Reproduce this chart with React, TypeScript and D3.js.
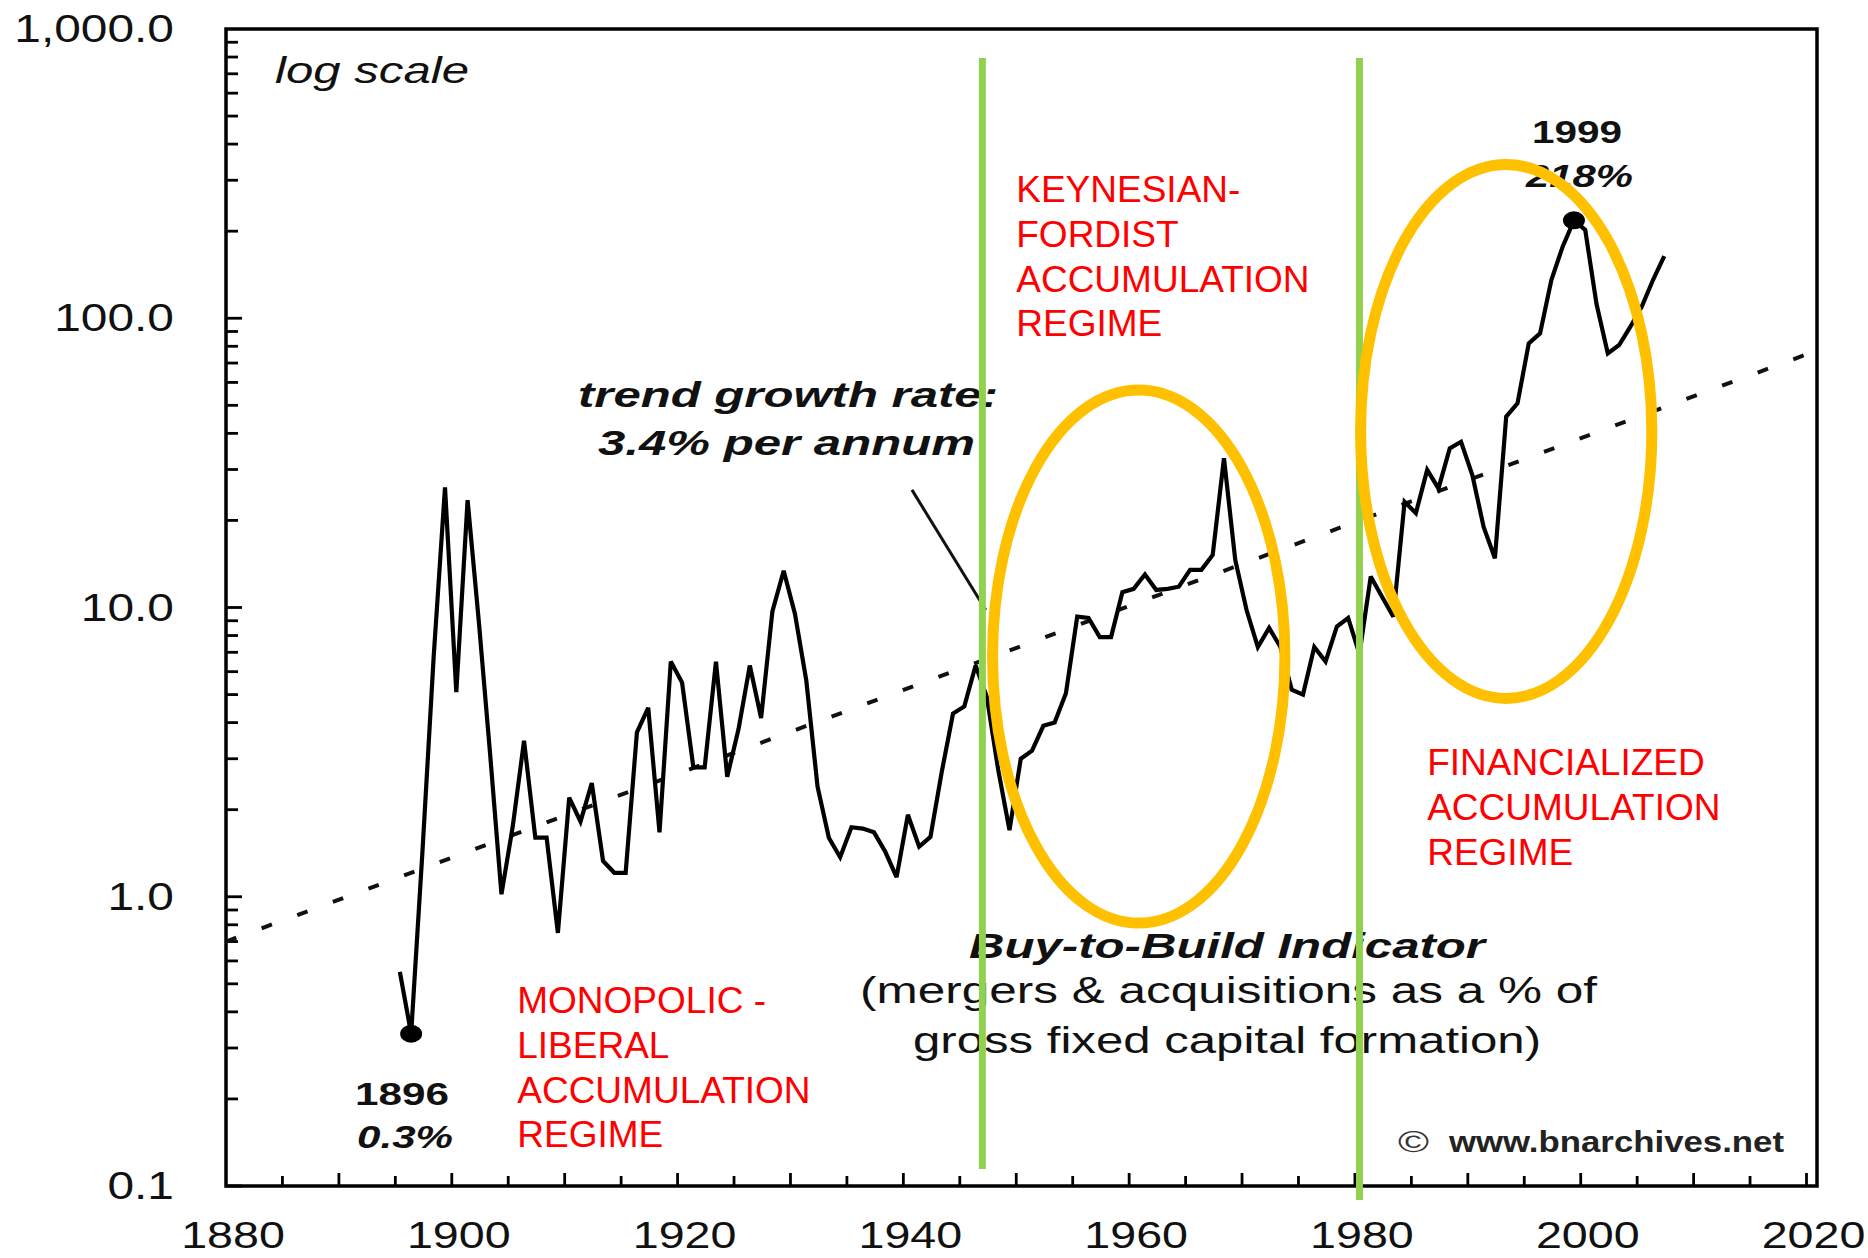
import React from "react";
import * as d3 from "d3";

// Buy-to-Build indicator, %, 1895-2007
const years = d3.range(1895, 2008);
const values = [
  0.55, 0.336, 1.43, 6.8, 26, 5.1, 23.5, 8.9, 3.1, 1.02,
  1.75, 3.46, 1.6, 1.6, 0.75, 2.2, 1.82, 2.47, 1.33, 1.21,
  1.21, 3.7, 4.5, 1.67, 6.5, 5.5, 2.8, 2.8, 6.5, 2.6,
  3.8, 6.3, 4.15, 9.7, 13.4, 9.5, 5.6, 2.4, 1.6, 1.37,
  1.74, 1.72, 1.67, 1.43, 1.17, 1.92, 1.49, 1.61, 2.7, 4.3,
  4.55, 6.3, 4.9, 2.75, 1.7, 3.0, 3.2, 3.9, 4.0, 5.05,
  9.3, 9.2, 7.9, 7.9, 11.3, 11.6, 13.0, 11.5, 11.6, 11.8,
  13.5, 13.5, 15.2, 32.8, 14.6, 9.8, 7.3, 8.5, 7.3, 5.2,
  5.0, 7.3, 6.5, 8.6, 9.2, 6.9, 12.8, 10.9, 9.3, 23.2,
  21.2, 29.9, 25.8, 35.5, 37.4, 28.7, 19.0, 14.8, 45.7, 50.8,
  81.9, 88.7, 135.6, 176.8, 218, 202, 112, 75.6, 80.8, 93.5,
  109.6, 135.6, 164,
];

// trend growth 3.4% p.a. (end points)
const trendYears = [1880, 2020];
const trendValues = [0.7, 75];

const highlights = [
  { year: 1896, value: 0.336 },
  { year: 1999, value: 218 },
];

const yTickValues = [0.1, 1, 10, 100, 1000];
const yTickLabels = ["0.1", "1.0", "10.0", "100.0", "1,000.0"];
const xTickValues = [1880, 1900, 1920, 1940, 1960, 1980, 2000, 2020];

const regimeBreaks = [1947, 1980.4];

// ellipses: [year from, year to, value low, value high]
const circles = [
  [1947.9, 1973.8, 0.811, 56.5],
  [1980.5, 2006.3, 4.85, 340],
];

const regimeLabels = [
  { year: 1905.8, top: 1013, lines: ["MONOPOLIC -", "LIBERAL", "ACCUMULATION", "REGIME"] },
  { year: 1950, top: 202, lines: ["KEYNESIAN-", "FORDIST", "ACCUMULATION", "REGIME"] },
  { year: 1986.4, top: 775, lines: ["FINANCIALIZED", "ACCUMULATION", "REGIME"] },
];

const FONT = "'Liberation Sans', Arial, Helvetica, sans-serif";

export default function App() {
  const W = 1868, H = 1258;
  const x = d3.scaleLinear().domain([1880, 2020]).range([226, 1806.5]);
  const y = d3.scaleLog().domain([0.1, 1000]).range([1186, 29]);
  const off = 0.4; // annual points sit a little past the year mark

  const line = d3
    .line<number>()
    .x((d, i) => x(years[i] + off))
    .y(d => y(d));

  const frameRight = x(2020) + 10.5;

  // minor log ticks
  const yTicks: { v: number; major: boolean }[] = [];
  [0.1, 1, 10, 100].forEach(dec => {
    yTicks.push({ v: dec, major: true });
    for (let k = 2; k <= 9; k++) yTicks.push({ v: dec * k, major: false });
  });
  const xTicks = d3.range(1885, 2021, 5);

  const stretch = 1.26;

  return (
    <svg
      width={W}
      height={H}
      style={{ position: "absolute", left: 0, top: 0, background: "#fff" }}
      fontFamily={FONT}
    >
      <rect width={W} height={H} fill="#fff" />

      {/* frame */}
      <rect
        x={x(1880)}
        y={y(1000)}
        width={frameRight - x(1880)}
        height={y(0.1) - y(1000)}
        fill="none"
        stroke="#000"
        strokeWidth={3.5}
      />

      {/* y ticks */}
      {yTicks.map((t, i) => (
        <line
          key={"yt" + i}
          x1={x(1880)}
          x2={x(1880) + (t.major ? 16 : 12)}
          y1={y(t.v)}
          y2={y(t.v)}
          stroke="#000"
          strokeWidth={2.8}
        />
      ))}
      {/* x ticks */}
      {xTicks.map(t => (
        <line
          key={"xt" + t}
          x1={x(t)}
          x2={x(t)}
          y1={y(0.1)}
          y2={y(0.1) - (t % 10 === 0 ? 13 : 10)}
          stroke="#000"
          strokeWidth={2.8}
        />
      ))}

      {/* y labels */}
      {yTickValues.map((v, i) => (
        <text
          key={"yl" + v}
          transform={`translate(174,${y(v) + 13}) scale(${stretch},1)`}
          textAnchor="end"
          fontSize={38}
          fill="#111"
        >
          {yTickLabels[i]}
        </text>
      ))}
      {/* x labels */}
      {xTickValues.map(v => (
        <text
          key={"xl" + v}
          transform={`translate(${x(v) + 7},1248) scale(${stretch},1)`}
          textAnchor="middle"
          fontSize={37}
          fill="#111"
        >
          {v}
        </text>
      ))}

      {/* trend line */}
      <line
        x1={x(trendYears[0])}
        y1={y(trendValues[0])}
        x2={x(trendYears[1])}
        y2={y(trendValues[1])}
        stroke="#111"
        strokeWidth={4}
        strokeDasharray="11 27"
      />

      {/* pointer to trend */}
      <line
        x1={x(1940.76)}
        y1={y(25.5)}
        x2={x(1947.3)}
        y2={y(9.8)}
        stroke="#111"
        strokeWidth={3}
      />

      {/* series */}
      <path
        d={line(values) || ""}
        fill="none"
        stroke="#000"
        strokeWidth={4.2}
        strokeLinejoin="miter"
        strokeMiterlimit={3}
      />
      {highlights.map(h => (
        <ellipse
          key={h.year}
          cx={x(h.year + off)}
          cy={y(h.value)}
          rx={11}
          ry={9}
          fill="#000"
        />
      ))}

      {/* black annotations */}
      <text x={275} y={83} fontSize={36} fontStyle="italic" textLength={194} lengthAdjust="spacingAndGlyphs" fill="#111">
        log scale
      </text>
      <text x={578} y={407} fontSize={35} fontStyle="italic" fontWeight="bold" textLength={420} lengthAdjust="spacingAndGlyphs" fill="#111">
        trend growth rate:
      </text>
      <text x={598} y={455} fontSize={35} fontStyle="italic" fontWeight="bold" textLength={377} lengthAdjust="spacingAndGlyphs" fill="#111">
        3.4% per annum
      </text>
      <text x={355} y={1105} fontSize={32} fontWeight="bold" textLength={94} lengthAdjust="spacingAndGlyphs" fill="#111">
        1896
      </text>
      <text x={357} y={1148} fontSize={32} fontStyle="italic" fontWeight="bold" textLength={96} lengthAdjust="spacingAndGlyphs" fill="#111">
        0.3%
      </text>
      <text x={1532} y={143} fontSize={32} fontWeight="bold" textLength={90} lengthAdjust="spacingAndGlyphs" fill="#111">
        1999
      </text>
      <text x={1526} y={187} fontSize={32} fontStyle="italic" fontWeight="bold" textLength={107} lengthAdjust="spacingAndGlyphs" fill="#111">
        218%
      </text>
      <text x={969} y={958} fontSize={35} fontStyle="italic" fontWeight="bold" textLength={516} lengthAdjust="spacingAndGlyphs" fill="#111">
        Buy-to-Build Indicator
      </text>
      <text x={860} y={1003} fontSize={37} textLength={737} lengthAdjust="spacingAndGlyphs" fill="#111">
        (mergers &amp; acquisitions as a % of
      </text>
      <text x={913} y={1053} fontSize={37} textLength={628} lengthAdjust="spacingAndGlyphs" fill="#111">
        gross fixed capital formation)
      </text>
      <text x={1398} y={1152} fontSize={30} textLength={31} lengthAdjust="spacingAndGlyphs" fill="#333">
        ©
      </text>
      <text x={1449} y={1152} fontSize={30} fontWeight="bold" textLength={335} lengthAdjust="spacingAndGlyphs" fill="#222">
        www.bnarchives.net
      </text>

      {/* red regime labels */}
      {regimeLabels.map((r, i) => (
        <text key={"rl" + i} fontSize={37} fill="#ff0000">
          {r.lines.map((s, j) => (
            <tspan key={j} x={x(r.year)} y={r.top + j * 44.8}>
              {s}
            </tspan>
          ))}
        </text>
      ))}

      {/* regime breaks */}
      <line x1={x(regimeBreaks[0])} x2={x(regimeBreaks[0])} y1={58} y2={1169} stroke="#92d050" strokeWidth={7} />
      <line x1={x(regimeBreaks[1])} x2={x(regimeBreaks[1])} y1={58} y2={1200} stroke="#92d050" strokeWidth={7} />

      {/* highlight ellipses */}
      {circles.map((c, i) => (
        <ellipse
          key={"c" + i}
          cx={(x(c[0]) + x(c[1])) / 2}
          cy={(y(c[2]) + y(c[3])) / 2}
          rx={(x(c[1]) - x(c[0])) / 2}
          ry={(y(c[2]) - y(c[3])) / 2}
          fill="none"
          stroke="#ffc000"
          strokeWidth={11}
        />
      ))}
    </svg>
  );
}
